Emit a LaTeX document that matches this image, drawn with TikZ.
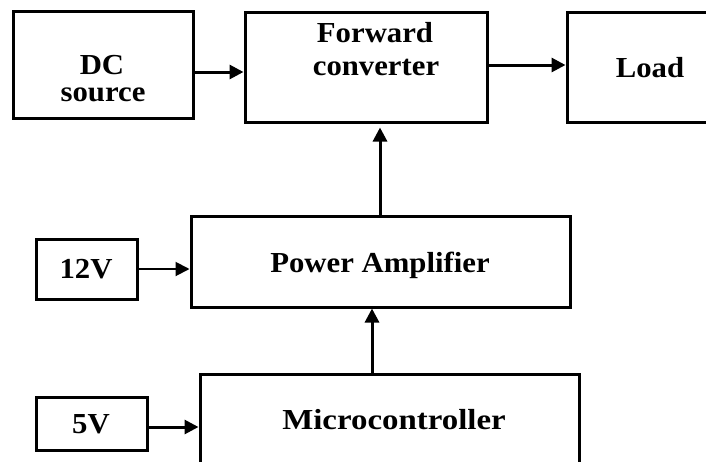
\documentclass[tikz,border=0pt]{standalone}
\usepackage{fontspec}
\setmainfont{Liberation Serif}[FakeStretch=1.06]
\usetikzlibrary{arrows.meta}
\tikzset{
  blk/.style={draw=black, line width=3pt, fill=none, minimum width=#1, inner sep=0pt},
  txt/.style={anchor=base, inner sep=0pt, font=\fontsize{29}{33}\selectfont\bfseries},
  arr/.style={line width=3pt, -{Triangle[length=14pt,width=14pt]}},
  thinarr/.style={line width=2pt, -{Triangle[length=14pt,width=14pt]}}
}
\begin{document}
\begin{tikzpicture}[x=1pt,y=-1pt]
\useasboundingbox (0,0) rectangle (706,461);
\clip (0,0) rectangle (706,461);
% boxes
\node[blk=180pt, minimum height=107pt] (dc) at (103,64.5) {};
\node[blk=242pt, minimum height=110pt] (fwd) at (366,67) {};
\node[blk=200pt, minimum height=110pt] (load) at (667,67) {};
\node[blk=379pt, minimum height=91pt] (pa) at (380.5,261.5) {};
\node[blk=101pt, minimum height=60pt] (v12) at (86.5,269) {};
\node[blk=379pt, minimum height=126pt] (mc) at (389.5,437) {};
\node[blk=111pt, minimum height=53pt] (v5) at (91.5,423.5) {};
% texts
\node[txt] (dct1) at (102,74) {DC};
\node[txt] (dct2) at (103,101) {source};
\node[txt] (fwdt1) at (375,42) {Forward};
\node[txt] (fwdt2) at (376,75) {converter};
\node[txt] (loadt) at (650,77) {Load};
\node[txt] (pat) at (380,272) {Power Amplifier};
\node[txt] (v12t) at (86,278) {12V};
\node[txt] (mct) at (394,429) {\scalebox{1.07}[1]{Microcontroller}};
\node[txt] (v5t) at (91,433) {5V};
% connectors
\draw[arr] ([yshift=-7.5pt]dc.east) -- ([yshift=-7.5pt]dc.east -| fwd.west);
\draw[arr] ([yshift=2pt]fwd.east) -- ([yshift=2pt]fwd.east -| load.west);
\draw[arr, shorten >=4pt] ([xshift=-0.5pt]pa.north) -- ([xshift=-0.5pt]pa.north |- fwd.south);
\draw[thinarr] (v12.east) -- (v12.east -| pa.west);
\draw[arr] ([xshift=-17.5pt]mc.north) -- ([xshift=-17.5pt]mc.north |- pa.south);
\draw[arr] ([yshift=-3.5pt]v5.east) -- ([yshift=-3.5pt]v5.east -| mc.west);
\end{tikzpicture}
\end{document}
